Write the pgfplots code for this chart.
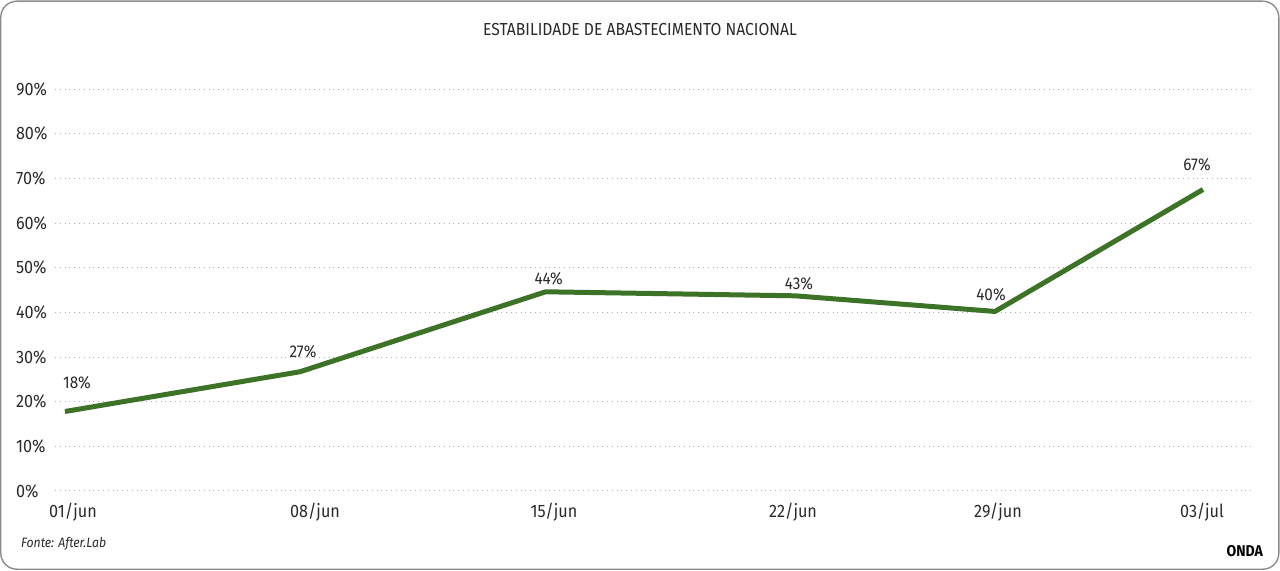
\documentclass[border=0pt]{standalone}
\usepackage{fontspec}
\setmainfont{Fira Sans}[FakeStretch=0.9]
\usepackage{pgfplots}
\pgfplotsset{compat=1.18}
\definecolor{linegreen}{HTML}{3C7326}
\definecolor{gridgray}{HTML}{B0B0B0}
\definecolor{framegray}{HTML}{8C8C8C}
\definecolor{txt}{HTML}{2A2A2A}

\pgfplotstableread{
x      y     lab dx   dy
0      17.8  18  6    14.5
235    26.7  27  1.5  10
480.7  44.6  44  1.5  6.5
730    43.7  43  2    6
930    40.2  40  -2   8.3
1138   67.5  67  -3   12.5
}\supply

\begin{document}
\begin{tikzpicture}
\useasboundingbox (0,0) rectangle (640pt,-285.5pt);
\draw[framegray, line width=0.7pt, rounded corners=8pt] (0.4pt,-0.6pt) rectangle (639.4pt,-284.6pt);

\node[txt, font=\fontsize{8.7}{10}\selectfont] at (320pt,-15pt) {ESTABILIDADE DE ABASTECIMENTO NACIONAL};
\node[txt, anchor=west, font=\fontsize{6.8}{8}\itshape] at (7pt,-272pt) {Fonte: After.Lab};
\node[black, anchor=east, font=\fontsize{7.8}{9}\bfseries] at (635pt,-275.5pt) {ONDA};

\begin{axis}[
  at={(27.5pt,-245.5pt)}, anchor=south west,
  scale only axis, width=598.5pt, height=201pt,
  xmin=-10, xmax=1187, ymin=0, ymax=90,
  axis line style={draw=none},
  major tick length=0pt,
  ytick={0,10,...,90},
  yticklabels={0\%,10\%,20\%,30\%,40\%,50\%,60\%,70\%,80\%,90\%},
  xtick={8,250,489,728,933,1137},
  xticklabels={01/jun,08/jun,15/jun,22/jun,29/jun,03/jul},
  ymajorgrids,
  grid style={gridgray, dotted, line width=0.5pt},
  tick label style={txt, font=\fontsize{9}{10}\selectfont},
  yticklabel style={anchor=west, xshift=-23pt},
  xticklabel style={yshift=-2.5pt},
  clip=false,
]
\addplot[linegreen, line width=2.5pt, line join=round, mark=none,
  point meta=explicit symbolic,
  nodes near coords={\pgfplotspointmeta\%},
  visualization depends on={\thisrow{dx} \as \dx},
  visualization depends on={\thisrow{dy} \as \dy},
  every node near coord/.append style={anchor=center, xshift=\dx pt, yshift=\dy pt, txt, font=\fontsize{8.5}{10}\selectfont},
] table[x=x, y=y, meta=lab] {\supply};
\end{axis}
\end{tikzpicture}
\end{document}
